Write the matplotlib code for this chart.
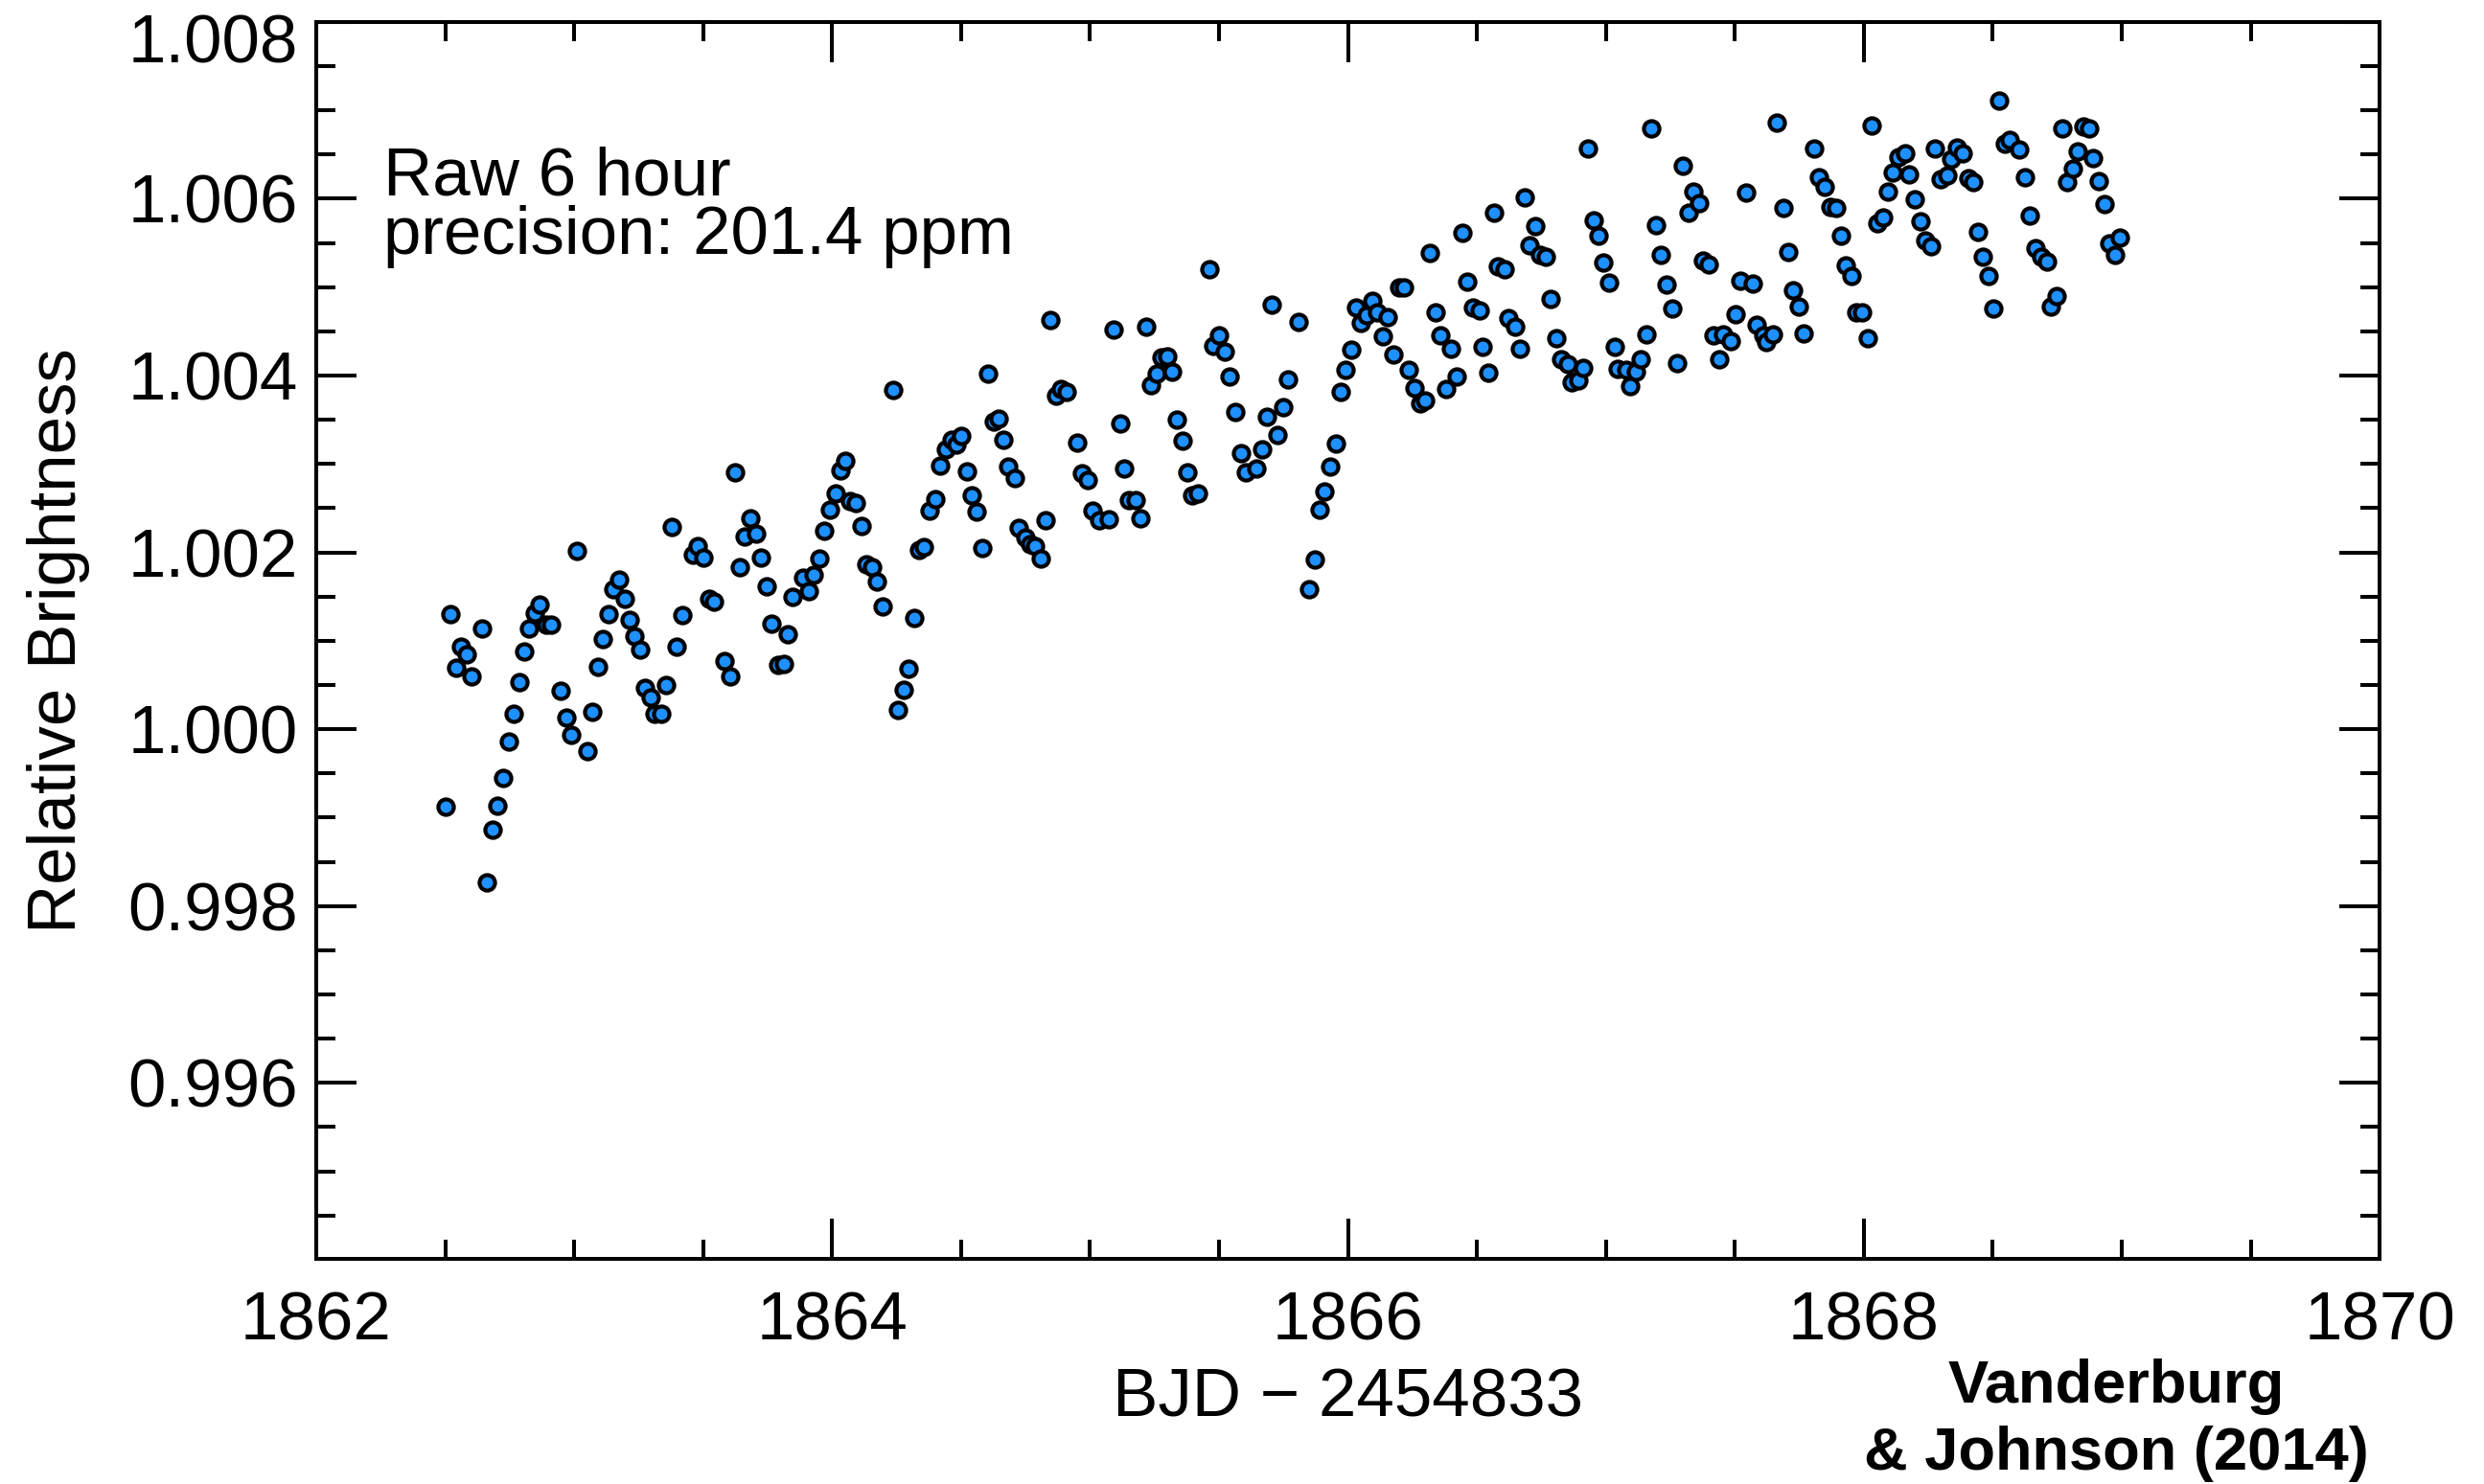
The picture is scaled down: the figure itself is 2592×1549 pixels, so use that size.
import matplotlib
matplotlib.use('Agg')
import matplotlib.pyplot as plt
from matplotlib.ticker import MultipleLocator
import matplotlib.transforms as mtransforms

# ---- data (BJD - 2454833, relative brightness) ----
bjd = [1862.502, 1862.520, 1862.541, 1862.561, 1862.582, 1862.602, 1862.644, 1862.663, 1862.684, 1862.704,
       1862.725, 1862.746, 1862.765, 1862.786, 1862.807, 1862.826, 1862.846, 1862.867, 1862.892, 1862.910,
       1862.949, 1862.970, 1862.990, 1863.010, 1863.052, 1863.071, 1863.093, 1863.112, 1863.134, 1863.152,
       1863.173, 1863.195, 1863.215, 1863.235, 1863.256, 1863.276, 1863.297, 1863.313, 1863.338, 1863.356,
       1863.378, 1863.399, 1863.418, 1863.459, 1863.480, 1863.502, 1863.523, 1863.541, 1863.582, 1863.604,
       1863.623, 1863.644, 1863.662, 1863.685, 1863.707, 1863.725, 1863.745, 1863.765, 1863.790, 1863.812,
       1863.827, 1863.848, 1863.886, 1863.910, 1863.930, 1863.951, 1863.971, 1863.991, 1864.013, 1864.031,
       1864.050, 1864.069, 1864.093, 1864.114, 1864.133, 1864.155, 1864.175, 1864.195, 1864.236, 1864.257,
       1864.276, 1864.298, 1864.318, 1864.337, 1864.357, 1864.378, 1864.399, 1864.418, 1864.440, 1864.463,
       1864.483, 1864.502, 1864.522, 1864.542, 1864.561, 1864.582, 1864.603, 1864.626, 1864.646, 1864.663,
       1864.684, 1864.708, 1864.725, 1864.748, 1864.768, 1864.787, 1864.810, 1864.828, 1864.848, 1864.867,
       1864.886, 1864.909, 1864.950, 1864.968, 1864.991, 1865.010, 1865.035, 1865.074, 1865.092, 1865.116,
       1865.134, 1865.152, 1865.175, 1865.196, 1865.217, 1865.237, 1865.258, 1865.276, 1865.299, 1865.319,
       1865.338, 1865.359, 1865.379, 1865.397, 1865.419, 1865.462, 1865.478, 1865.499, 1865.524, 1865.542,
       1865.563, 1865.584, 1865.604, 1865.646, 1865.667, 1865.686, 1865.706, 1865.728, 1865.749, 1865.768,
       1865.809, 1865.850, 1865.871, 1865.889, 1865.910, 1865.930, 1865.952, 1865.972, 1865.991, 1866.011,
       1866.032, 1866.050, 1866.073, 1866.093, 1866.112, 1866.135, 1866.155, 1866.177, 1866.199, 1866.217,
       1866.236, 1866.257, 1866.280, 1866.300, 1866.318, 1866.339, 1866.357, 1866.381, 1866.401, 1866.422,
       1866.443, 1866.463, 1866.484, 1866.509, 1866.521, 1866.544, 1866.565, 1866.583, 1866.608, 1866.624,
       1866.647, 1866.666, 1866.686, 1866.703, 1866.727, 1866.744, 1866.768, 1866.787, 1866.808, 1866.828,
       1866.853, 1866.868, 1866.893, 1866.911, 1866.932, 1866.952, 1866.971, 1866.991, 1867.013, 1867.033,
       1867.045, 1867.079, 1867.095, 1867.116, 1867.134, 1867.157, 1867.175, 1867.196, 1867.214, 1867.237,
       1867.258, 1867.276, 1867.299, 1867.320, 1867.338, 1867.363, 1867.376, 1867.400, 1867.419, 1867.441,
       1867.456, 1867.485, 1867.503, 1867.521, 1867.543, 1867.568, 1867.584, 1867.609, 1867.623, 1867.646,
       1867.664, 1867.689, 1867.708, 1867.726, 1867.747, 1867.768, 1867.809, 1867.827, 1867.850, 1867.871,
       1867.892, 1867.912, 1867.931, 1867.952, 1867.971, 1867.995, 1868.014, 1868.032, 1868.053, 1868.076,
       1868.094, 1868.112, 1868.135, 1868.160, 1868.174, 1868.197, 1868.218, 1868.239, 1868.259, 1868.277,
       1868.299, 1868.323, 1868.338, 1868.361, 1868.385, 1868.404, 1868.426, 1868.441, 1868.463, 1868.482,
       1868.503, 1868.524, 1868.546, 1868.567, 1868.604, 1868.624, 1868.645, 1868.667, 1868.689, 1868.711,
       1868.725, 1868.748, 1868.769, 1868.788, 1868.810, 1868.829, 1868.850, 1868.875, 1868.890, 1868.912,
       1868.932, 1868.953, 1868.974, 1868.992]

brightness = [0.99912, 1.00130, 1.00070, 1.00093, 1.00085, 1.00060, 1.00114, 0.99827, 0.99886, 0.99914,
              0.99945, 0.99986, 1.00018, 1.00053, 1.00088, 1.00114, 1.00131, 1.00141, 1.00118, 1.00118,
              1.00043, 1.00013, 0.99994, 1.00202, 0.99975, 1.00020, 1.00071, 1.00102, 1.00130, 1.00158,
              1.00169, 1.00148, 1.00124, 1.00105, 1.00090, 1.00047, 1.00036, 1.00017, 1.00017, 1.00050,
              1.00229, 1.00093, 1.00129, 1.00197, 1.00207, 1.00194, 1.00147, 1.00144, 1.00077, 1.00060,
              1.00291, 1.00183, 1.00218, 1.00238, 1.00221, 1.00194, 1.00162, 1.00119, 1.00073, 1.00074,
              1.00107, 1.00150, 1.00171, 1.00156, 1.00175, 1.00193, 1.00224, 1.00248, 1.00267, 1.00293,
              1.00303, 1.00258, 1.00256, 1.00230, 1.00187, 1.00183, 1.00167, 1.00139, 1.00384, 1.00022,
              1.00045, 1.00068, 1.00126, 1.00203, 1.00206, 1.00247, 1.00260, 1.00298, 1.00317, 1.00327,
              1.00322, 1.00332, 1.00292, 1.00264, 1.00246, 1.00205, 1.00402, 1.00348, 1.00351, 1.00327,
              1.00297, 1.00284, 1.00228, 1.00217, 1.00209, 1.00207, 1.00193, 1.00236, 1.00463, 1.00377,
              1.00385, 1.00381, 1.00324, 1.00289, 1.00282, 1.00247, 1.00236, 1.00237, 1.00452, 1.00346,
              1.00295, 1.00259, 1.00259, 1.00238, 1.00455, 1.00389, 1.00402, 1.00421, 1.00422, 1.00404,
              1.00350, 1.00326, 1.00291, 1.00265, 1.00267, 1.00520, 1.00434, 1.00445, 1.00427, 1.00399,
              1.00359, 1.00312, 1.00290, 1.00295, 1.00316, 1.00353, 1.00480, 1.00333, 1.00364, 1.00396,
              1.00461, 1.00158, 1.00192, 1.00248, 1.00269, 1.00297, 1.00323, 1.00382, 1.00407, 1.00429,
              1.00477, 1.00460, 1.00468, 1.00484, 1.00471, 1.00444, 1.00466, 1.00424, 1.00500, 1.00500,
              1.00406, 1.00386, 1.00369, 1.00372, 1.00539, 1.00471, 1.00446, 1.00385, 1.00430, 1.00399,
              1.00561, 1.00506, 1.00477, 1.00474, 1.00432, 1.00403, 1.00584, 1.00523, 1.00520, 1.00465,
              1.00455, 1.00430, 1.00602, 1.00547, 1.00569, 1.00537, 1.00534, 1.00487, 1.00442, 1.00418,
              1.00413, 1.00392, 1.00394, 1.00409, 1.00657, 1.00575, 1.00558, 1.00528, 1.00505, 1.00433,
              1.00408, 1.00406, 1.00388, 1.00404, 1.00418, 1.00447, 1.00679, 1.00570, 1.00536, 1.00503,
              1.00476, 1.00414, 1.00637, 1.00584, 1.00608, 1.00595, 1.00530, 1.00526, 1.00445, 1.00418,
              1.00447, 1.00439, 1.00469, 1.00507, 1.00607, 1.00504, 1.00457, 1.00445, 1.00438, 1.00447,
              1.00686, 1.00590, 1.00540, 1.00496, 1.00478, 1.00448, 1.00657, 1.00624, 1.00613, 1.00591,
              1.00590, 1.00558, 1.00525, 1.00513, 1.00472, 1.00472, 1.00442, 1.00683, 1.00572, 1.00579,
              1.00608, 1.00630, 1.00647, 1.00651, 1.00628, 1.00599, 1.00574, 1.00553, 1.00546, 1.00657,
              1.00622, 1.00626, 1.00645, 1.00658, 1.00651, 1.00623, 1.00619, 1.00563, 1.00534, 1.00513,
              1.00476, 1.00711, 1.00662, 1.00667, 1.00656, 1.00624, 1.00581, 1.00544, 1.00534, 1.00529,
              1.00478, 1.00490, 1.00679, 1.00619, 1.00634, 1.00654, 1.00682, 1.00679, 1.00646, 1.00620,
              1.00594, 1.00549, 1.00536, 1.00556]

x_ticks = [1862, 1864, 1866, 1868, 1870]
x_tick_labels = ['1862', '1864', '1866', '1868', '1870']
y_ticks = [0.996, 0.998, 1.000, 1.002, 1.004, 1.006, 1.008]
y_tick_labels = ['0.996', '0.998', '1.000', '1.002', '1.004', '1.006', '1.008']

plt.rcParams['font.family'] = ['Liberation Sans', 'DejaVu Sans']

W, H, DPI = 25.92, 15.49, 100
fig = plt.figure(figsize=(W, H), dpi=DPI, facecolor='white')
ax = fig.add_axes([0.1273, 0.1517, 0.8307, 0.8336])

ax.scatter(bjd, brightness, s=135, c='#1E90FF', edgecolors='black', linewidths=3.0, zorder=3)

ax.set_xlim(1862, 1870)
ax.set_ylim(0.99401, 1.008)
ax.set_xticks(x_ticks)
ax.set_xticklabels(x_tick_labels)
ax.set_yticks(y_ticks)
ax.set_yticklabels(y_tick_labels)
ax.xaxis.set_minor_locator(MultipleLocator(0.5))
ax.yaxis.set_minor_locator(MultipleLocator(0.0005))

ax.tick_params(which='both', direction='in', top=True, right=True, width=2.9, color='black')
ax.tick_params(which='major', length=30)
ax.tick_params(which='minor', length=14.4)
ax.tick_params(axis='x', labelsize=51, pad=24)
ax.tick_params(axis='y', labelsize=51, pad=14)
for s in ax.spines.values():
    s.set_linewidth(2.9)

# top y label sits a little lower than its tick in the original
offset = mtransforms.ScaledTranslation(0, -17 / DPI, fig.dpi_scale_trans)
yt = ax.yaxis.get_major_ticks()
yt[-1].label1.set_transform(yt[-1].label1.get_transform() + offset)

ax.set_xlabel('BJD \u2212 2454833', fontsize=51)
ax.xaxis.set_label_coords(0.5, -0.088)
ax.set_ylabel('Relative Brightness', fontsize=51)
ax.yaxis.set_label_coords(-0.1096, 0.5)

# multi-line text: va='baseline' anchors the last line's baseline
ax.text(0.0325, 0.8127, 'Raw 6 hour\nprecision: 201.4 ppm', transform=ax.transAxes,
        fontsize=51, ha='left', va='baseline', linespacing=0.91)

fig.text(0.852, 0.0097, 'Vanderburg\n& Johnson (2014)', fontsize=45.5, fontweight='bold',
         ha='center', va='baseline', linespacing=1.24, multialignment='center')

fig.savefig('out.png', dpi=DPI, facecolor='white')
